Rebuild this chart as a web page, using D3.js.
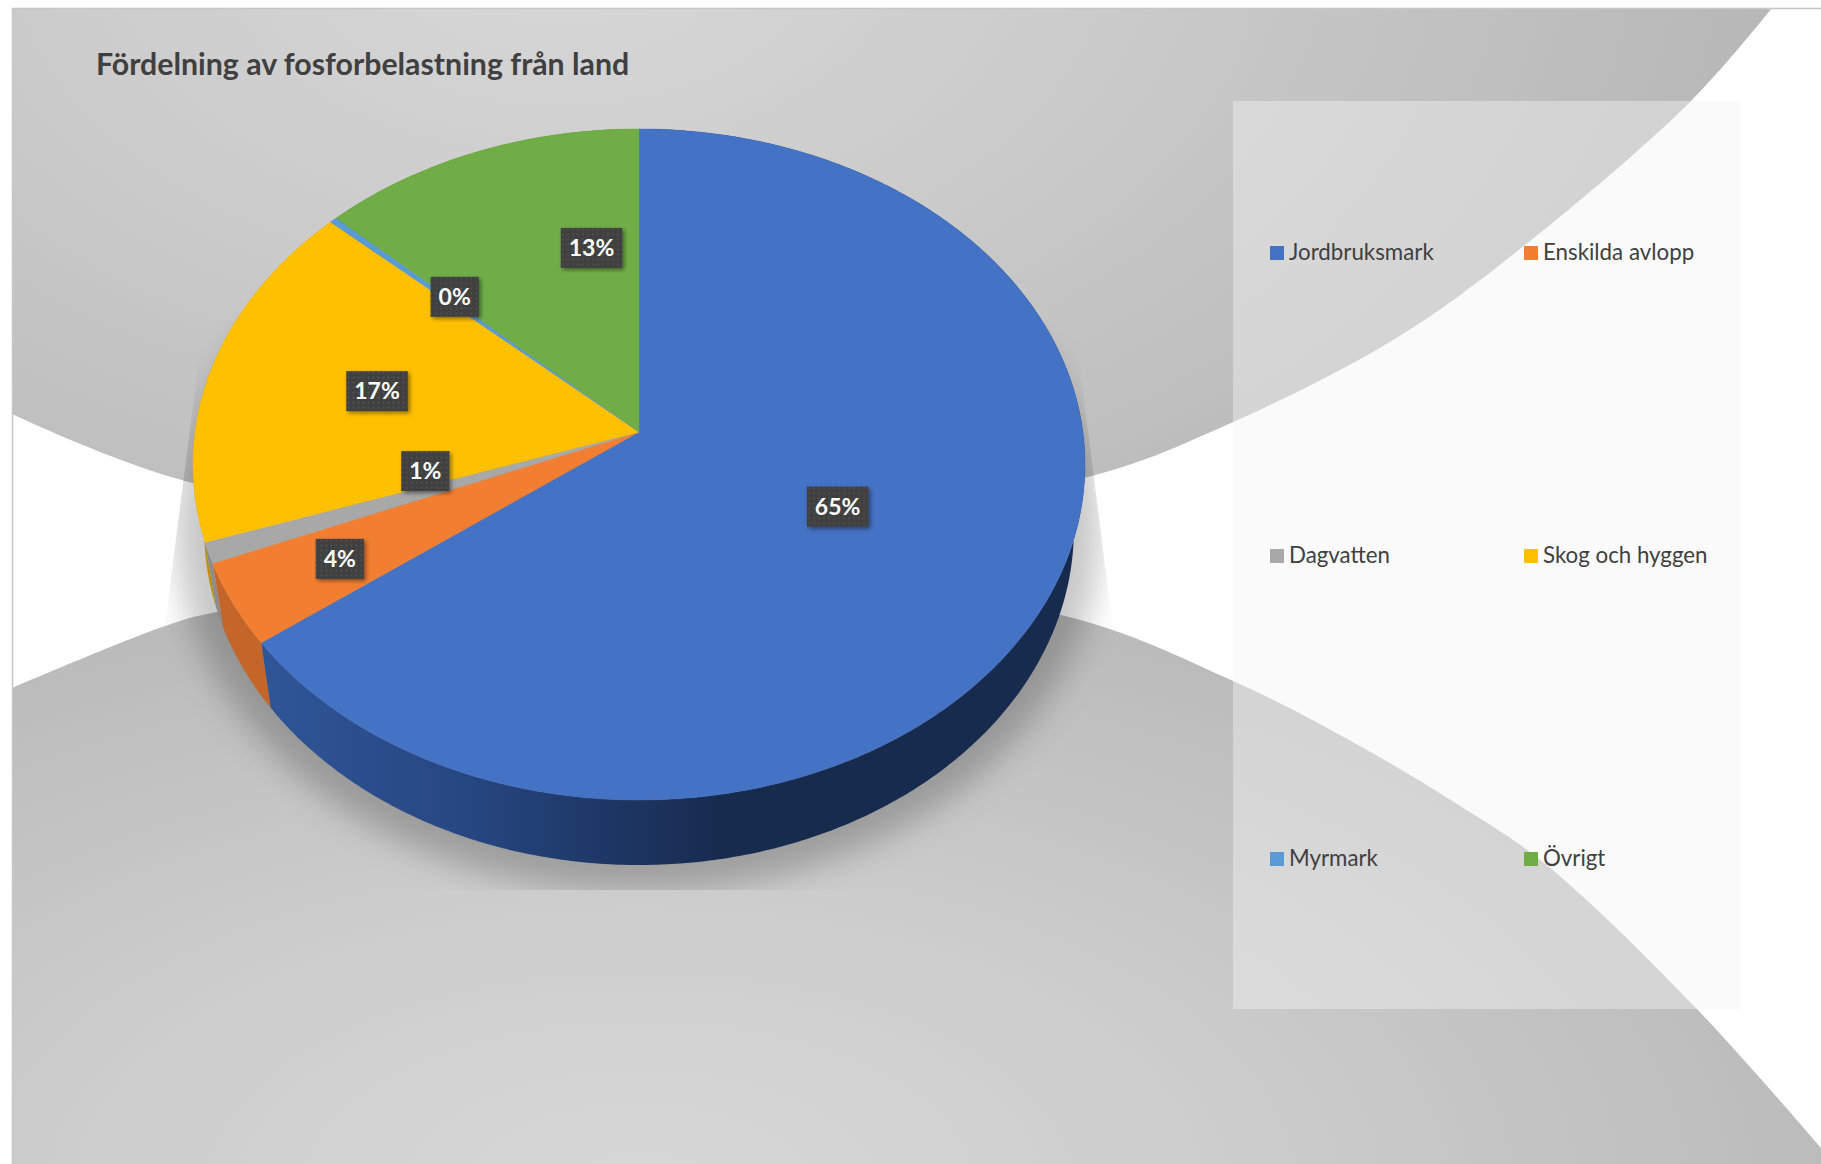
<!DOCTYPE html>
<html lang="sv">
<head>
<meta charset="utf-8">
<title>Fördelning av fosforbelastning från land</title>
<script src="https://cdn.jsdelivr.net/npm/d3@7/dist/d3.min.js"></script>
<style>
  html, body { margin: 0; padding: 0; background: #fff; }
  svg { display: block; }
  text { font-family: Lato, "Open Sans", sans-serif; }
</style>
</head>
<body>
<svg id="chart" width="1821" height="1164"></svg>
<script>
// Chart data
const chartTitle = "Fördelning av fosforbelastning från land";
const categories = ["Jordbruksmark", "Enskilda avlopp", "Dagvatten", "Skog och hyggen", "Myrmark", "Övrigt"];
const shares = [65, 4, 1, 17, 0.3, 13];
const topColors = ["#4472C4", "#F27F31", "#A8A8A8", "#FFC000", "#5B9BD5", "#70AD47"];
const wallColors = ["url(#blueWall)", "#C4662A", "#8C8C8C", "#BF9000", "#41719C", "#507E32"];

// Label placement on the disc: radius fraction and a turn away from the slice's middle
const labelRadius = [0.49, 0.747, 0.49, 0.61, 0.605, 0.596];
const labelTurn = [0, 0, 6.8, 0, 1.6, 12.4];

// Decorative backdrop outlines
const upperEdge = [[12,414],[193,483],[640,540],[1084,478],[1233,422],[1398,337],[1525,245],[1691,101],[1772,8]];
const lowerEdge = [[12,688],[165,626],[217,612],[640,570],[1061,615],[1233,681],[1358,745],[1457,804],[1544,863],[1695,1007],[1821,1148]];
const shadowBounds = [[204,320],[1074,320],[1094,478],[1113,630],[1160,890],[131,890],[165,625],[183,483]];

const svg = d3.select("#chart");
const defs = svg.append("defs");

// Perspective of the tilted disc: centre of the disc and the projected half axes
const apex = { x: 639, y: 432 };
const spreadX = 443.9, spreadY = 332.4, foreshorten = 0.0968;
const depth = 65, baseShrink = 0.975;

function project(angle, r = 1) {
  const u = r * Math.sin(angle), v = r * Math.cos(angle);
  const w = 1 + foreshorten * v;
  return [apex.x + spreadX * u / w, apex.y - spreadY * v / w];
}
const lowered = ([x, y]) => [apex.x + (x - apex.x) * baseShrink, y + depth];

const color = d3.scaleOrdinal(categories, topColors);
const wall = d3.scaleOrdinal(categories, wallColors);
const arcs = d3.pie().sort(null).value((d, i) => shares[i])(categories);
const outline = d3.line();
const smoothEdge = d3.line().curve(d3.curveCatmullRom.alpha(0.5));

function rim(a0, a1) {
  const n = Math.max(2, Math.ceil((a1 - a0) / 0.01));
  return d3.range(n + 1).map(i => project(a0 + (a1 - a0) * i / n));
}

// Gradients, patterns and filters
function gradient(id, attrs, stops, type) {
  const g = defs.append(type).attr("id", id).attr("gradientUnits", "userSpaceOnUse");
  Object.entries(attrs).forEach(([k, v]) => g.attr(k, v));
  stops.forEach(([o, c]) => g.append("stop").attr("offset", o).attr("stop-color", c));
}
gradient("upperFill", { cx: 560, cy: -60, r: 1200, gradientTransform: "translate(560 -60) scale(1 0.62) translate(-560 60)" },
  [[0, "#d8d8d8"], [0.45, "#cbcbcb"], [1, "#b8b8b8"]], "radialGradient");
gradient("lowerFill", { cx: 640, cy: 1190, r: 1200, gradientTransform: "translate(640 1190) scale(1 0.5) translate(-640 -1190)" },
  [[0, "#d8d8d8"], [0.48, "#cdcdcd"], [1, "#bbbbbb"]], "radialGradient");
gradient("blueWall", { x1: 270, x2: 720, y1: 0, y2: 0 },
  [[0, "#2F5597"], [0.45, "#264680"], [1, "#172B4F"]], "linearGradient");

defs.append("filter").attr("id", "softShadow")
  .attr("x", "-10%").attr("y", "-10%").attr("width", "120%").attr("height", "120%")
  .append("feGaussianBlur").attr("stdDeviation", 16);
defs.append("clipPath").attr("id", "shadowClip")
  .append("path").attr("d", outline(shadowBounds) + "Z");

const labelShadow = defs.append("filter").attr("id", "labelShadow")
  .attr("x", "-20%").attr("y", "-20%").attr("width", "150%").attr("height", "150%");
labelShadow.append("feDropShadow").attr("dx", 2).attr("dy", 2).attr("stdDeviation", 2)
  .attr("flood-color", "#000").attr("flood-opacity", 0.45);

const dots = defs.append("pattern").attr("id", "labelDots")
  .attr("width", 5).attr("height", 5).attr("patternUnits", "userSpaceOnUse");
dots.append("rect").attr("width", 5).attr("height", 5).attr("fill", "#3f3f3f");
dots.append("circle").attr("cx", 1.5).attr("cy", 1.5).attr("r", 0.9).attr("fill", "#565656");

// Backdrop
svg.append("path")
  .attr("d", smoothEdge(upperEdge) + "L12,8Z")
  .attr("fill", "url(#upperFill)");
svg.append("path")
  .attr("d", smoothEdge(lowerEdge) + "L1821,1164L12,1164Z")
  .attr("fill", "url(#lowerFill)");
svg.append("path").attr("d", "M1821,8.5H12.5V1164")
  .attr("fill", "none").attr("stroke", "#c6c6c6").attr("stroke-width", 1.5);

// Shadow thrown by the pie
svg.append("g").attr("clip-path", "url(#shadowClip)")
  .append("ellipse")
  .attr("cx", 638).attr("cy", 530).attr("rx", 462).attr("ry", 362)
  .attr("fill", "#000").attr("fill-opacity", 0.22)
  .attr("filter", "url(#softShadow)");

// Legend panel
svg.append("rect")
  .attr("x", 1233).attr("y", 101).attr("width", 507).attr("height", 908)
  .attr("fill", "#f3f3f3").attr("fill-opacity", 0.43);

// Side walls, drawn back to front; the top face covers their hidden part
const pie = svg.append("g");
pie.selectAll("path.wall")
  .data(arcs.slice().reverse())
  .join("path")
  .attr("class", "wall")
  .attr("d", d => {
    const edge = rim(d.startAngle, d.endAngle);
    return outline(edge.concat(edge.map(lowered).reverse())) + "Z";
  })
  .attr("fill", d => wall(d.data));

// Top face
pie.selectAll("path.face")
  .data(arcs)
  .join("path")
  .attr("class", "face")
  .attr("d", d => outline([[apex.x, apex.y], ...rim(d.startAngle, d.endAngle)]) + "Z")
  .attr("fill", d => color(d.data))
  .attr("stroke", d => color(d.data))
  .attr("stroke-width", 0.4);

// Title
svg.append("text")
  .attr("x", 96).attr("y", 75)
  .attr("font-size", 30.3).attr("font-weight", 700).attr("fill", "#404040")
  .text(chartTitle);

// Data labels
const labels = svg.append("g").selectAll("g")
  .data(arcs)
  .join("g")
  .attr("transform", (d, i) => {
    const mid = (d.startAngle + d.endAngle) / 2 + labelTurn[i] * Math.PI / 180;
    return `translate(${project(mid, labelRadius[i])})`;
  });
const boxes = labels.append("rect")
  .attr("y", -20).attr("height", 40)
  .attr("fill", "url(#labelDots)")
  .attr("filter", "url(#labelShadow)");
const labelText = labels.append("text")
  .attr("text-anchor", "middle").attr("y", 8)
  .attr("font-size", 23).attr("font-weight", 700).attr("fill", "#fff")
  .text((d, i) => d3.format(".0f")(shares[i]) + "%");
labelText.each(function (d, i) {
  const w = this.getComputedTextLength() + 16;
  d3.select(boxes.nodes()[i]).attr("x", -w / 2).attr("width", w);
});

// Legend, two columns by three rows
const legendX = d3.scalePoint().domain([0, 1]).range([1270, 1524]);
const legendY = d3.scalePoint().domain([0, 1, 2]).range([253, 859]);
const entries = svg.append("g").selectAll("g")
  .data(categories)
  .join("g")
  .attr("transform", (d, i) => `translate(${legendX(i % 2)},${legendY(Math.floor(i / 2))})`);
entries.append("rect")
  .attr("y", -7).attr("width", 14).attr("height", 14)
  .attr("fill", d => color(d));
entries.append("text")
  .attr("x", 19).attr("y", 6.5)
  .attr("font-size", 22.3).attr("fill", "#404040")
  .text(d => d);
</script>
</body>
</html>
